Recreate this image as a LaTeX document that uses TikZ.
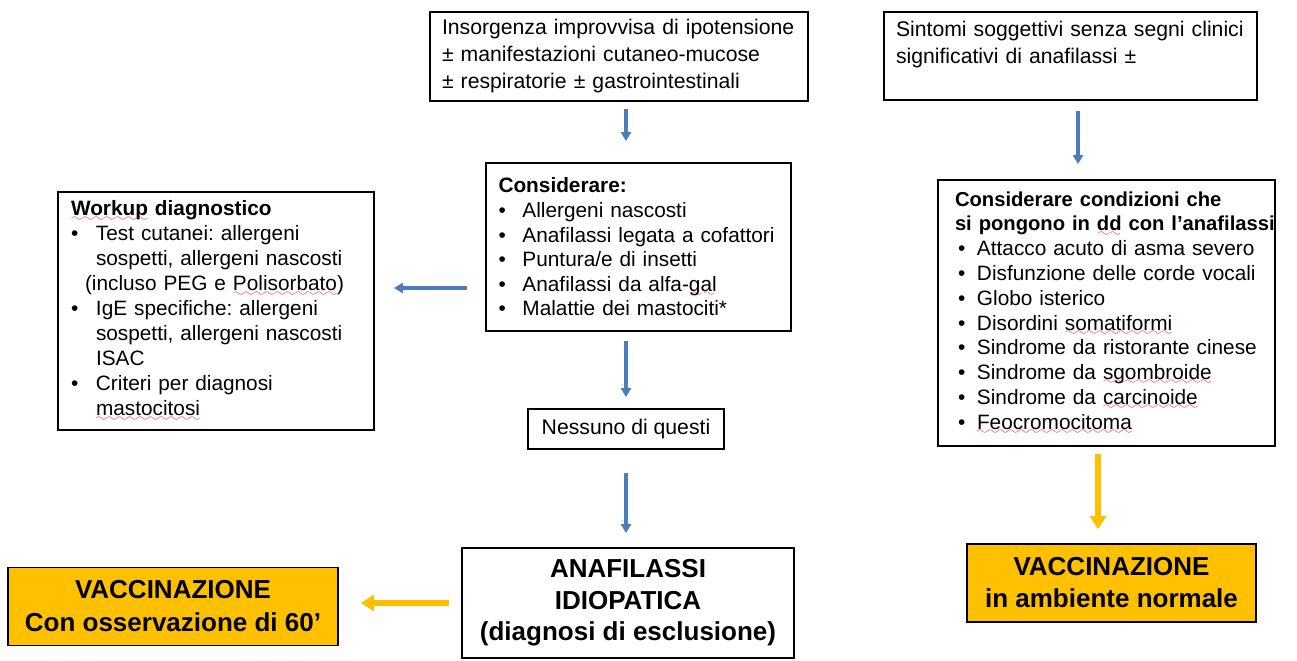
\documentclass[tikz,border=0pt]{standalone}
\usepackage{fontspec}
\setmainfont{Liberation Sans}
\usetikzlibrary{arrows.meta}
\frenchspacing

\definecolor{arrowblue}{HTML}{4A7EBB}
\definecolor{vacyellow}{HTML}{FFC000}

\font\wavyfont=lasy6
\newcommand{\spellerr}[1]{\setbox0\hbox{#1}\rlap{\lower2.6pt\hbox to\wd0{\color{red!75}\xleaders\hbox{\wavyfont\char58}\hfil}}\box0\relax}
\newcommand{\bul}[1][12pt]{\makebox[#1][l]{\textbullet}}
\newcommand{\ind}[1][12pt]{\hspace*{#1}}

\begin{document}
\begin{tikzpicture}[x=0.5pt, y=-0.5pt,
  box/.style={draw, line width=0.9pt, align=left, inner sep=0pt,
    font=\fontsize{10.6}{13.5}\selectfont},
  listbox/.style={box, font=\fontsize{10.4}{12.3}\selectfont},
  vacbox/.style={draw, fill=vacyellow, line width=0.9pt, align=center, inner sep=0pt,
    font=\bfseries\fontsize{13}{16.5}\selectfont},
  bluearrow/.style={-{Triangle[width=5pt,length=4.5pt]}, draw=arrowblue, line width=1.8pt},
  yelarrow/.style={-{Triangle[width=8pt,length=6.5pt]}, draw=vacyellow, line width=3pt},
]

\useasboundingbox (0,0) rectangle (1297,660);

% top row
\node[box, minimum width=189pt, minimum height=44.5pt, text width=177pt] (onset) at (619,56.5)
  {Insorgenza improvvisa di ipotensione\\ ± manifestazioni cutaneo-mucose\\ ± respiratorie ± gastrointestinali};
\node[box, minimum width=186.5pt, minimum height=44pt, text width=174.5pt] (sympt) at (1070.5,56)
  {Sintomi soggettivi senza segni clinici\\ significativi di anafilassi ±\\ \mbox{}};

% middle row
\node[listbox, minimum width=152.5pt, minimum height=84pt, text width=140pt] (consider) at (638.5,247)
  {\textbf{Considerare:}\\
   \bul Allergeni nascosti\\
   \bul Anafilassi legata a cofattori\\
   \bul Puntura/e di insetti\\
   \bul Anafilassi da alfa-\spellerr{gal}\\
   \bul Malattie dei mastociti*};
\node[listbox, minimum width=158pt, minimum height=119pt, text width=145pt,
  font=\fontsize{10.4}{12.5}\selectfont] (workup) at (216,311)
  {\textbf{\spellerr{Workup} diagnostico}\\
   \bul[12.5pt]Test cutanei: allergeni\\
   \ind[12.5pt]sospetti, allergeni nascosti\\
   \ind[7pt](incluso PEG e \spellerr{Polisorbato})\\
   \bul[12.5pt]IgE specifiche: allergeni\\
   \ind[12.5pt]sospetti, allergeni nascosti\\
   \ind[12.5pt]ISAC\\
   \bul[12.5pt]Criteri per diagnosi\\
   \ind[12.5pt]\spellerr{mastocitosi}};
\node[listbox, minimum width=168.5pt, minimum height=133pt, text width=151.5pt,
  font=\fontsize{10.4}{12.4}\selectfont] (ddiff) at (1106.5,313)
  {{\fontsize{10.1}{12.4}\selectfont\textbf{Considerare condizioni che}}\\
   \mbox{\fontsize{10.1}{12.4}\selectfont\textbf{si pongono in \spellerr{dd} con l’anafilassi}}\\
   \ind[1.5pt]\bul[9.5pt]Attacco acuto di asma severo\\
   \ind[1.5pt]\bul[9.5pt]Disfunzione delle corde vocali\\
   \ind[1.5pt]\bul[9.5pt]Globo isterico\\
   \ind[1.5pt]\bul[9.5pt]Disordini \spellerr{somatiformi}\\
   \ind[1.5pt]\bul[9.5pt]Sindrome da ristorante cinese\\
   \ind[1.5pt]\bul[9.5pt]Sindrome da \spellerr{sgombroide}\\
   \ind[1.5pt]\bul[9.5pt]Sindrome da \spellerr{carcinoide}\\
   \ind[1.5pt]\bul[9.5pt]\spellerr{Feocromocitoma}};

% bottom
\node[box, minimum width=98pt, minimum height=20pt, align=center] (none) at (626,429) {Nessuno di questi};
\node[box, minimum width=166pt, minimum height=55pt, align=center,
  font=\bfseries\fontsize{13}{15.75}\selectfont] (idiop) at (628,603)
  {ANAFILASSI\\ IDIOPATICA\\ (diagnosi di esclusione)};
\node[vacbox, minimum width=165pt, minimum height=39pt] (vacobs) at (173,606.5)
  {VACCINAZIONE\\ Con osservazione di 60’};
\node[vacbox, minimum width=144.5pt, minimum height=39pt, font=\bfseries\fontsize{13}{16}\selectfont] (vacnorm) at (1111.5,583)
  {VACCINAZIONE\\ in ambiente normale};

% arrows
\draw[bluearrow, shorten <=3.5pt, shorten >=10.5pt] (onset.south -| none) -- (consider.north -| none);
\draw[bluearrow, shorten <=9pt, shorten >=9.5pt] ([yshift=-20.5pt]consider.west) -- ([yshift=-20.5pt]consider.west -| workup.east);
\draw[bluearrow, shorten <=4.5pt, shorten >=5.5pt] (consider.south -| none) -- (none.north);
\draw[bluearrow, shorten <=11.5pt, shorten >=7pt] (none.south) -- (idiop.north -| none);
\draw[yelarrow, shorten <=6pt, shorten >=11pt] (idiop.west) -- (idiop.west -| vacobs.east);
\draw[bluearrow, shorten <=5pt, shorten >=7.5pt] ([xshift=3.75pt]sympt.south) -- ([xshift=3.75pt]sympt.south |- ddiff.north);
\draw[yelarrow, shorten <=3.5pt, shorten >=7pt] ([xshift=-6.75pt]vacnorm.north |- ddiff.south) -- ([xshift=-6.75pt]vacnorm.north);

\end{tikzpicture}
\end{document}
